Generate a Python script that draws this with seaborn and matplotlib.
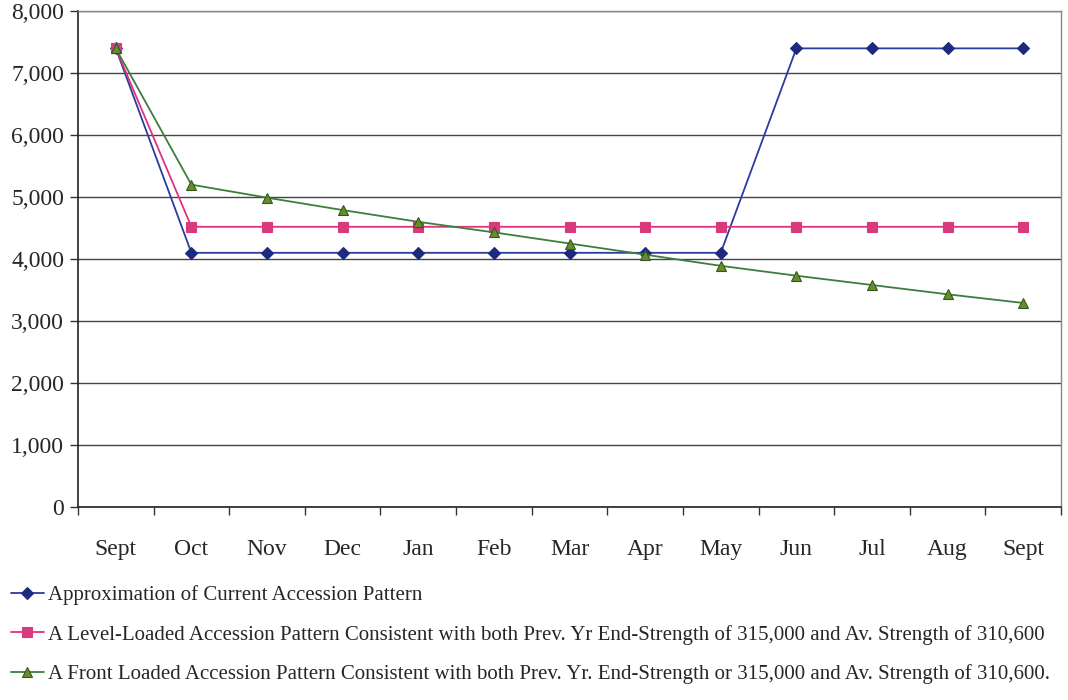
import matplotlib
matplotlib.use("Agg")
import matplotlib.pyplot as plt
from matplotlib.ticker import FixedLocator, FuncFormatter
import seaborn as sns
import pandas as pd

months = ["Sept", "Oct", "Nov", "Dec", "Jan", "Feb", "Mar", "Apr", "May",
          "Jun", "Jul", "Aug", "Sept"]
current = [7400, 4100, 4100, 4100, 4100, 4100, 4100, 4100, 4100,
           7400, 7400, 7400, 7400]
level = [7400, 4520, 4520, 4520, 4520, 4520, 4520, 4520, 4520,
         4520, 4520, 4520, 4520]
front = [7400, 5200, 4990, 4790, 4600, 4430, 4250, 4070, 3890,
         3730, 3580, 3430, 3290]

labels = [
    "Approximation of Current Accession Pattern",
    "A Level-Loaded Accession Pattern Consistent with both Prev. Yr End-Strength of 315,000 and Av. Strength of 310,600",
    "A Front Loaded Accession Pattern Consistent with both Prev. Yr. End-Strength or 315,000 and Av. Strength of 310,600.",
]

sns.set_theme(style="white")
plt.rcParams["font.family"] = ["Liberation Serif", "DejaVu Serif"]

fig = plt.figure(figsize=(10.68, 7.0), dpi=100)
ax = fig.add_axes([0.073, 0.276, 0.9205, 0.708])

pos = list(range(len(months)))
styles = [
    (current, "#2a3c9e", "D", "#1e2a80", "#1e2a80", 6),
    (level, "#e0307e", "s", "#d93a7c", "#d93a7c", 7.5),
    (front, "#3d7d3d", "^", "#6b8a2c", "#2f5a1f", 7),
]
for (vals, lc, mk, mfc, mec, ms), lab in zip(styles, labels):
    df = pd.DataFrame({"x": pos, "y": vals})
    sns.lineplot(data=df, x="x", y="y", ax=ax, color=lc, linewidth=1.3,
                 marker=mk, markersize=ms, markerfacecolor=mfc,
                 markeredgecolor=mec, markeredgewidth=0.8, label=lab)

ax.set_xlim(-0.5, 12.5)
ax.set_ylim(0, 8000)
ax.set_yticks(range(0, 8001, 1000))
ax.yaxis.set_major_formatter(FuncFormatter(lambda v, p: f"{int(v):,}"))
ax.set_xticks(pos)
ax.set_xticklabels(months)
ax.xaxis.set_minor_locator(FixedLocator([p + 0.5 for p in range(-1, 13)]))
ax.tick_params(axis="x", which="major", length=0, pad=23, labelsize=17)
ax.tick_params(axis="x", which="minor", length=6, width=1, color="#333333",
               direction="out", bottom=True)
ax.tick_params(axis="y", length=6, width=1, color="#333333", direction="out",
               left=True, labelsize=17, pad=4)
ax.set_xlabel("")
ax.set_ylabel("")

ax.grid(axis="y", color="#444444", linewidth=1.0)
ax.set_axisbelow(True)
for side in ["top", "right"]:
    ax.spines[side].set_color("#888888")
    ax.spines[side].set_linewidth(1.0)
for side in ["left", "bottom"]:
    ax.spines[side].set_color("#222222")
    ax.spines[side].set_linewidth(1.2)

handles, labs = ax.get_legend_handles_labels()
ax.get_legend().remove()
fig.legend(handles, labs, loc="upper left", bbox_to_anchor=(0.006, 0.17),
           frameon=False, fontsize=15, labelspacing=0.95, handlelength=1.6,
           handletextpad=0.2, borderaxespad=0.0, borderpad=0.2)

fig.savefig("out.png", dpi=100)
